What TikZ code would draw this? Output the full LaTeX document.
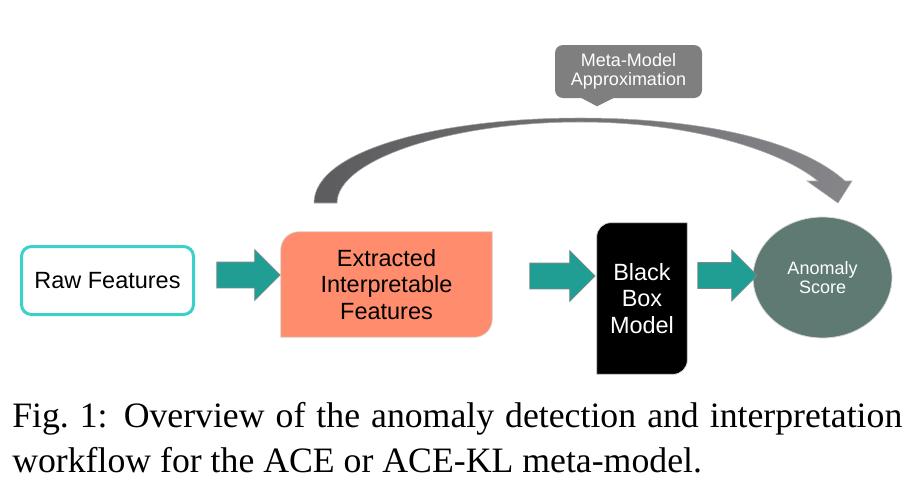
\documentclass[tikz,border=0pt]{standalone}
\usepackage{fontspec}
\setmainfont{Liberation Serif}
\setsansfont{Liberation Sans}
\usetikzlibrary{shapes.geometric,shapes.arrows,backgrounds,calc}
\definecolor{tealA}{HTML}{209E94}
\definecolor{arrowedge}{HTML}{7A8A88}
\definecolor{cyanB}{HTML}{3CD0CA}
\definecolor{salmonC}{HTML}{FF8C6C}
\definecolor{scoreC}{HTML}{5E7A73}
\definecolor{calloutC}{HTML}{7F7F80}
\definecolor{lightedge}{HTML}{D8D8D8}
\definecolor{curveL}{HTML}{5C5C5E}
\definecolor{curveR}{HTML}{86868A}
\begin{document}
\begin{tikzpicture}[x=0.75pt,y=-0.75pt,
  lbl/.style={font=\sffamily\fontsize{17.6}{19.9}\selectfont, align=center, inner sep=0pt},
  smalllbl/.style={font=\sffamily\fontsize{13.5}{14.25}\selectfont, align=center, text=white, inner sep=0pt},
  blockarrow/.style={single arrow, fill=tealA, draw=arrowedge, line width=0.6pt,
    single arrow head extend=9.375pt, single arrow tip angle=90,
    single arrow head indent=0pt, inner xsep=0pt, inner ysep=9.375pt},
  captionstyle/.style={anchor=north west, text width=667.5pt, align=justify, inner sep=0pt,
    font=\fontsize{26.8}{33.75}\selectfont}
]
\useasboundingbox (0,0) rectangle (913,489);

% Raw features
\node[lbl, minimum width=129pt, minimum height=51pt, draw=cyanB, line width=2.25pt,
  rounded corners=7.5pt, fill=white] (raw) at (107.5,280.5) {Raw Features};

% Extracted features
\node[lbl, minimum width=158.25pt, minimum height=78.75pt] (ex) at (386.5,284.5)
  {Extracted\\Interpretable\\Features};
% Black box
\node[lbl, text=white, minimum width=67.5pt, minimum height=113.25pt] (bb) at (642,298.5)
  {Black\\Box\\Model};
\begin{scope}[on background layer]
\fill[salmonC, draw=lightedge, line width=0.5pt] (ex.south west) -- ($(ex.north west)+(0,18)$)
  arc[start angle=180,end angle=270,radius=18] -- (ex.north east) -- ($(ex.south east)+(0,-18)$)
  arc[start angle=0,end angle=90,radius=18] -- cycle;
\fill[black, draw=lightedge, line width=0.5pt] (bb.south west) -- ($(bb.north west)+(0,14)$)
  arc[start angle=180,end angle=270,radius=14] -- (bb.north east) -- ($(bb.south east)+(0,-14)$)
  arc[start angle=0,end angle=90,radius=14] -- cycle;
\end{scope}

% Anomaly score
\node[ellipse, fill=scoreC, draw=lightedge, line width=0.6pt, minimum width=104.25pt,
  minimum height=90.75pt, smalllbl] (score) at (822.5,277.5) {Anomaly\\Score};

% Block arrows
\node[blockarrow, minimum height=47.5pt] (a1) at (242,275) {};
\node[blockarrow, minimum height=49pt] (a2) at (556,276) {};
\node[blockarrow, minimum height=44.5pt] (a3) at (721,275.5) {};

% Callout
\node[fill=calloutC, rounded corners=6pt, minimum width=110.25pt, minimum height=39.75pt,
  smalllbl] (meta) at (628.5,71.5) {Meta-Model\\Approximation};
\fill[calloutC] ($(meta.south)+(-48.5,-1)$) -- ($(meta.south)+(-31.5,8)$)
  -- ($(meta.south)+(-13.5,-1)$) -- cycle;

% Curved arrow
\shade[left color=curveL, right color=curveR, draw=curveR!70!white, line width=0.4pt]
  (314,203) .. controls (314,150) and (440,118) .. (580,118)
  .. controls (700,118) and (800,140) .. (845,181)
  -- (852,181) -- (838,203) -- (807,181) -- (818,181)
  .. controls (780,150) and (690,122) .. (580,122)
  .. controls (450,122) and (337,160) .. (337,203) -- cycle;

% Caption
\node[captionstyle] (cap) at (12,402.5)
  {Fig.~1: Overview of the anomaly detection and interpretation\linebreak
   workflow for the ACE or ACE-KL meta-model.};
\end{tikzpicture}
\end{document}
